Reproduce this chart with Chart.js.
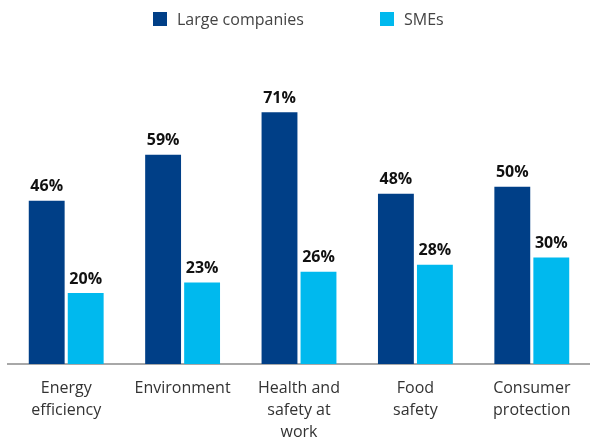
<!DOCTYPE html>
<html>
<head>
<meta charset="utf-8">
<script src="https://cdn.jsdelivr.net/npm/chart.js@4"></script>
<style>
  body { margin: 0; background: #fff; }
  #wrap { width: 590px; height: 441px; }
</style>
</head>
<body>
<div id="wrap"><canvas id="one" width="590" height="441"></canvas></div>
<script>
// categories and shares per company size
const categories = [
  ['Energy', 'efficiency'],
  'Environment',
  ['Health and', 'safety at', 'work'],
  ['Food', 'safety'],
  ['Consumer', 'protection']
];
const largeCompanies = [46, 59, 71, 48, 50];
const smes = [20, 23, 26, 28, 30];

const darkBlue = '#003f87';
const lightBlue = '#00b9ee';
const font = "'Open Sans', sans-serif";

// percentage on top of each bar
const valueLabels = {
  id: 'valueLabels',
  afterDatasetsDraw(chart) {
    const ctx = chart.ctx;
    ctx.save();
    ctx.font = 'bold 16px ' + font;
    ctx.fillStyle = '#111';
    ctx.textAlign = 'center';
    ctx.textBaseline = 'bottom';
    chart.data.datasets.forEach(function(ds, i) {
      chart.getDatasetMeta(i).data.forEach(function(bar, j) {
        ctx.fillText(ds.data[j] + '%', bar.x, bar.y - 6);
      });
    });
    ctx.restore();
  }
};

// legend drawn by hand so the items can sit far apart
const topLegend = {
  id: 'topLegend',
  afterDraw(chart) {
    const ctx = chart.ctx;
    const xs = [153, 380];
    ctx.save();
    ctx.font = '16px ' + font;
    ctx.textBaseline = 'middle';
    chart.data.datasets.forEach(function(ds, i) {
      ctx.fillStyle = ds.backgroundColor;
      ctx.fillRect(xs[i], 12, 14, 14);
      ctx.fillStyle = '#444';
      ctx.fillText(ds.label, xs[i] + 24, 20);
    });
    ctx.restore();
  }
};

new Chart(document.getElementById('one'), {
  type: 'bar',
  data: {
    labels: categories,
    datasets: [
      { label: 'Large companies', data: largeCompanies, backgroundColor: darkBlue },
      { label: 'SMEs', data: smes, backgroundColor: lightBlue }
    ]
  },
  options: {
    responsive: false,
    animation: false,
    layout: { padding: { top: 59, left: 8, right: 0, bottom: 0 } },
    datasets: { bar: { categoryPercentage: 0.67, barPercentage: 0.92 } },
    plugins: {
      legend: { display: false },
      tooltip: { enabled: false }
    },
    scales: {
      x: {
        grid: { display: false, drawTicks: false },
        border: { display: true, color: '#a8a8a8', width: 2 },
        ticks: {
          color: '#333',
          padding: 13,
          maxRotation: 0,
          font: { family: font, size: 16, lineHeight: 1.375 }
        },
        // the three-line label may run to the bottom edge
        afterFit: function(scale) { scale.height = 77; }
      },
      y: {
        display: false,
        min: 0,
        max: 86
      }
    }
  },
  plugins: [valueLabels, topLegend]
});
</script>
</body>
</html>
